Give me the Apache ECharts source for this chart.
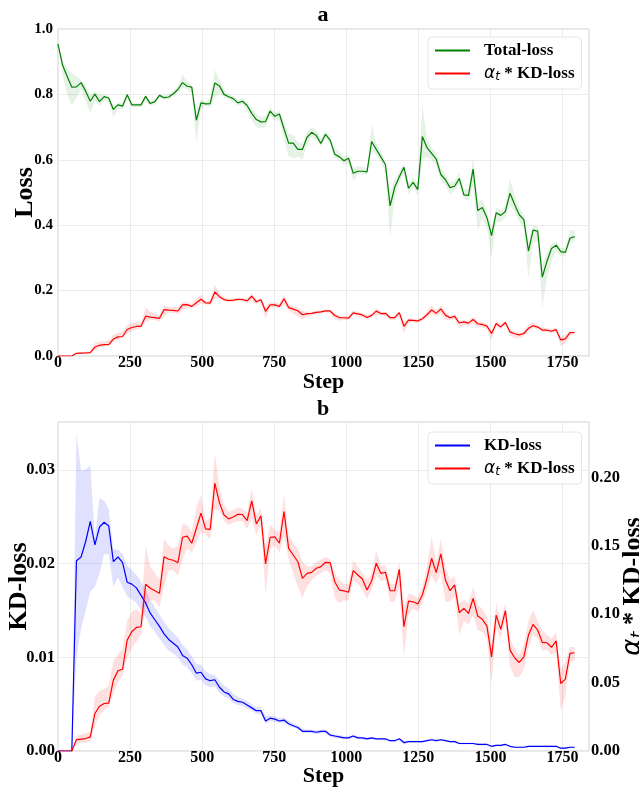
<!DOCTYPE html>
<html>
  <head>
    <title>Loss curves</title>
    <meta charset="utf-8">
    <script type="text/javascript" src="https://cdn.jsdelivr.net/npm/echarts@6/dist/echarts.min.js"></script>
  </head>
  <body style="margin:0;background:#ffffff;">
    <div id="main" style="width:639px;height:789px;"></div>

  <script type="text/javascript">
  // evaluation steps (one point every 16 steps)
  var steps = [0,16,32,48,64,80,96,112,128,144,
    160,176,192,208,224,240,256,272,288,304,
    320,336,352,368,384,400,416,432,448,464,
    480,496,512,528,544,560,576,592,608,624,
    640,656,672,688,704,720,736,752,768,784,
    800,816,832,848,864,880,896,912,928,944,
    960,976,992,1008,1024,1040,1056,1072,1088,1104,
    1120,1136,1152,1168,1184,1200,1216,1232,1248,1264,
    1280,1296,1312,1328,1344,1360,1376,1392,1408,1424,
    1440,1456,1472,1488,1504,1520,1536,1552,1568,1584,
    1600,1616,1632,1648,1664,1680,1696,1712,1728,1744,
    1760,1776,1792];

  // Total-loss (mean, band low, band high)
  var totalLoss = [0.954,0.889,0.855,0.822,0.823,0.836,0.810,0.779,0.801,0.778,
    0.793,0.789,0.754,0.768,0.764,0.799,0.768,0.768,0.768,0.794,
    0.772,0.778,0.797,0.790,0.792,0.802,0.815,0.836,0.825,0.822,
    0.721,0.774,0.771,0.772,0.835,0.826,0.800,0.793,0.787,0.774,
    0.779,0.766,0.742,0.723,0.716,0.717,0.749,0.733,0.740,0.695,
    0.651,0.651,0.632,0.632,0.669,0.684,0.674,0.650,0.678,0.660,
    0.617,0.609,0.597,0.605,0.559,0.565,0.565,0.563,0.656,0.632,
    0.609,0.585,0.459,0.516,0.548,0.577,0.513,0.531,0.509,0.671,
    0.637,0.620,0.602,0.555,0.539,0.515,0.519,0.543,0.493,0.491,
    0.572,0.445,0.454,0.423,0.368,0.438,0.430,0.442,0.498,0.463,
    0.432,0.417,0.321,0.385,0.382,0.241,0.289,0.329,0.339,0.319,
    0.317,0.360,0.365];
  var totalLo = [0.954,0.86,0.80,0.765,0.79,0.815,0.78,0.745,0.78,0.765,
    0.78,0.775,0.73,0.755,0.755,0.785,0.76,0.762,0.76,0.78,
    0.765,0.77,0.79,0.783,0.785,0.795,0.805,0.82,0.815,0.80,
    0.653,0.755,0.765,0.76,0.79,0.805,0.79,0.785,0.775,0.765,
    0.77,0.75,0.72,0.70,0.695,0.70,0.735,0.72,0.72,0.66,
    0.61,0.604,0.61,0.60,0.645,0.67,0.66,0.64,0.665,0.65,
    0.605,0.60,0.585,0.59,0.535,0.555,0.555,0.555,0.63,0.615,
    0.595,0.555,0.36,0.48,0.53,0.555,0.495,0.515,0.49,0.60,
    0.61,0.60,0.585,0.535,0.52,0.495,0.505,0.525,0.48,0.475,
    0.52,0.385,0.42,0.39,0.30,0.41,0.41,0.425,0.46,0.44,
    0.41,0.39,0.238,0.35,0.35,0.146,0.24,0.29,0.32,0.305,
    0.305,0.345,0.35];
  var totalHi = [0.954,0.905,0.88,0.865,0.855,0.845,0.825,0.80,0.81,0.80,
    0.80,0.795,0.765,0.775,0.775,0.805,0.775,0.773,0.775,0.80,
    0.78,0.785,0.803,0.797,0.80,0.81,0.825,0.862,0.84,0.83,
    0.75,0.785,0.778,0.785,0.876,0.845,0.815,0.80,0.795,0.782,
    0.788,0.775,0.755,0.74,0.73,0.735,0.76,0.745,0.75,0.715,
    0.68,0.675,0.655,0.65,0.685,0.70,0.69,0.665,0.69,0.67,
    0.635,0.625,0.61,0.615,0.575,0.58,0.578,0.575,0.708,0.65,
    0.625,0.595,0.50,0.54,0.565,0.59,0.53,0.545,0.53,0.766,
    0.665,0.64,0.62,0.575,0.555,0.53,0.535,0.56,0.51,0.51,
    0.609,0.47,0.48,0.445,0.39,0.455,0.445,0.46,0.541,0.49,
    0.455,0.43,0.35,0.40,0.395,0.28,0.315,0.345,0.35,0.33,
    0.33,0.382,0.385];

  // alpha_t * KD-loss
  var alphaKd = [0,0,0,0,0.0083,0.0087,0.0091,0.0103,0.0274,0.0327,
    0.0347,0.035,0.0518,0.0586,0.0597,0.081,0.0871,0.0903,0.0908,0.1218,
    0.1189,0.1171,0.1152,0.142,0.1401,0.1394,0.1376,0.1562,0.157,0.1518,
    0.1628,0.1738,0.1623,0.162,0.1957,0.1815,0.1725,0.1696,0.171,0.173,
    0.1728,0.1684,0.1828,0.1659,0.1718,0.1367,0.1562,0.1565,0.1518,0.175,
    0.1481,0.1432,0.1383,0.1262,0.1298,0.1305,0.1335,0.1347,0.1379,0.1377,
    0.1237,0.1176,0.117,0.116,0.1318,0.1286,0.1257,0.1176,0.1242,0.1372,
    0.1298,0.1306,0.1171,0.1171,0.1328,0.0908,0.1096,0.109,0.1074,0.114,
    0.1262,0.1408,0.1303,0.144,0.125,0.1171,0.1213,0.101,0.1042,0.1005,
    0.1115,0.0986,0.0962,0.0913,0.0688,0.0993,0.0889,0.1025,0.0737,0.0681,
    0.0647,0.0688,0.0847,0.0925,0.0884,0.0793,0.0791,0.0757,0.0805,0.0493,
    0.0525,0.0713,0.0718];
  var alphaLo = [0,0,0,0,0.005,0.006,0.006,0.007,0.018,0.026,
    0.03,0.032,0.042,0.05,0.055,0.068,0.075,0.08,0.085,0.105,
    0.11,0.11,0.105,0.12,0.132,0.132,0.128,0.14,0.148,0.145,
    0.152,0.16,0.158,0.155,0.177,0.175,0.168,0.165,0.167,0.168,
    0.168,0.162,0.17,0.158,0.165,0.114,0.148,0.15,0.145,0.158,
    0.14,0.13,0.12,0.112,0.12,0.125,0.128,0.13,0.132,0.13,
    0.112,0.108,0.11,0.11,0.125,0.122,0.118,0.111,0.118,0.128,
    0.124,0.125,0.109,0.109,0.12,0.0688,0.10,0.104,0.102,0.108,
    0.118,0.128,0.122,0.13,0.109,0.109,0.113,0.0847,0.095,0.092,
    0.10,0.088,0.087,0.082,0.0493,0.09,0.082,0.095,0.062,0.054,
    0.054,0.06,0.075,0.085,0.082,0.073,0.074,0.07,0.072,0.0293,
    0.04,0.065,0.066];
  var alphaHi = [0,0,0,0.001,0.011,0.012,0.013,0.014,0.040,0.044,
    0.045,0.048,0.066,0.070,0.075,0.095,0.102,0.104,0.100,0.150,
    0.135,0.13,0.125,0.155,0.15,0.148,0.15,0.166,0.165,0.16,
    0.178,0.187,0.168,0.17,0.218,0.192,0.18,0.175,0.176,0.178,
    0.177,0.174,0.1916,0.172,0.178,0.15,0.165,0.162,0.16,0.188,
    0.158,0.152,0.148,0.138,0.135,0.135,0.138,0.14,0.142,0.14,
    0.13,0.125,0.122,0.122,0.139,0.135,0.13,0.125,0.13,0.1464,
    0.135,0.136,0.122,0.122,0.138,0.105,0.115,0.114,0.112,0.12,
    0.135,0.1566,0.138,0.1547,0.135,0.125,0.128,0.108,0.11,0.108,
    0.12,0.107,0.104,0.098,0.078,0.108,0.096,0.108,0.082,0.075,
    0.07,0.078,0.095,0.103,0.095,0.088,0.085,0.082,0.087,0.06,
    0.065,0.076,0.076];

  // KD-loss
  var kdLoss = [0,0,0,0,0.0203,0.0207,0.02235,0.0245,0.022,0.0239,
    0.0244,0.0240,0.0202,0.0207,0.0201,0.0180,0.0178,0.0174,0.0166,0.0158,
    0.0147,0.0140,0.0133,0.0125,0.0119,0.0115,0.0111,0.0102,0.0099,0.0092,
    0.0083,0.0084,0.0077,0.0075,0.0076,0.0068,0.0063,0.0061,0.0055,0.0053,
    0.0052,0.0049,0.0046,0.0043,0.0043,0.0032,0.0035,0.0034,0.0032,0.0033,
    0.0029,0.0027,0.0025,0.0021,0.0021,0.0021,0.0020,0.0021,0.0021,0.0017,
    0.0016,0.0015,0.0014,0.0014,0.0016,0.0014,0.0014,0.0013,0.0014,0.0013,
    0.0013,0.0013,0.0011,0.0011,0.0013,0.0009,0.0010,0.0010,0.0010,0.0010,
    0.0011,0.0012,0.0011,0.0012,0.0011,0.0010,0.0010,0.0008,0.0008,0.0008,
    0.0008,0.0007,0.0007,0.0007,0.0005,0.0006,0.0006,0.0007,0.0005,0.0004,
    0.0004,0.0004,0.0005,0.0005,0.0005,0.0005,0.0005,0.0005,0.0005,0.0003,
    0.0003,0.0004,0.0004];
  var kdLo = [0,0,0,0,0.010,0.013,0.015,0.017,0.0175,0.019,
    0.021,0.021,0.0175,0.0185,0.0175,0.0165,0.0162,0.0158,0.0150,0.0143,
    0.0133,0.0127,0.0120,0.0113,0.0107,0.0104,0.0100,0.0092,0.0089,0.0083,
    0.0075,0.0076,0.0070,0.0068,0.0069,0.0062,0.0058,0.0056,0.0051,0.0049,
    0.0048,0.0045,0.0043,0.0040,0.0039,0.0029,0.0032,0.0031,0.0030,0.0030,
    0.0027,0.0025,0.0023,0.0019,0.0019,0.0019,0.0018,0.0019,0.0019,0.0015,
    0.0014,0.0013,0.0013,0.0013,0.0014,0.0013,0.0012,0.0012,0.0012,0.0012,
    0.0012,0.0011,0.0010,0.0010,0.0011,0.0007,0.0009,0.0009,0.0009,0.0009,
    0.0010,0.0011,0.0010,0.0011,0.0010,0.0009,0.0009,0.0007,0.0007,0.0007,
    0.0007,0.0006,0.0006,0.0006,0.0004,0.0005,0.0005,0.0006,0.0004,0.0003,
    0.0003,0.0003,0.0004,0.0004,0.0004,0.0004,0.0004,0.0004,0.0004,0.0002,
    0.0002,0.0003,0.0003];
  var kdHi = [0,0,0,0,0.0339,0.0299,0.030,0.0305,0.0228,0.0270,
    0.0267,0.0258,0.0215,0.0215,0.021,0.0198,0.0193,0.0188,0.0180,0.0172,
    0.0161,0.0153,0.0146,0.0138,0.0131,0.0126,0.0121,0.0113,0.0108,0.0101,
    0.0093,0.0092,0.0085,0.0082,0.0081,0.0075,0.0070,0.0067,0.0061,0.0058,
    0.0056,0.0053,0.0050,0.0047,0.0046,0.0037,0.0038,0.0037,0.0035,0.0036,
    0.0032,0.0030,0.0028,0.0024,0.0023,0.0023,0.0022,0.0023,0.0023,0.0019,
    0.0018,0.0017,0.0016,0.0016,0.0017,0.0016,0.0015,0.0015,0.0015,0.0014,
    0.0014,0.0014,0.0012,0.0012,0.0014,0.0011,0.0011,0.0011,0.0011,0.0011,
    0.0012,0.0013,0.0012,0.0013,0.0012,0.0011,0.0011,0.0009,0.0009,0.0009,
    0.0009,0.0008,0.0008,0.0008,0.0006,0.0007,0.0007,0.0008,0.0006,0.0005,
    0.0005,0.0005,0.0006,0.0006,0.0006,0.0006,0.0006,0.0006,0.0006,0.0004,
    0.0004,0.0005,0.0005];

  var xTicks = [0, 250, 500, 750, 1000, 1250, 1500, 1750];

  var serif = 'Liberation Serif';
  var alphaName = 'α_t * KD-loss';

  function pairs(ys) {
    return steps.map(function (s, i) { return [s, ys[i]]; });
  }

  // shaded band: one polygon through the (step, low) / (step, high) points
  function band(id, lo, hi, fill, xi, yi, z) {
    return {
      name: id, type: 'custom', xAxisIndex: xi, yAxisIndex: yi, silent: true, z: z,
      data: steps.map(function (s, i) { return [s, lo[i], hi[i]]; }),
      encode: { x: 0, y: [1, 2] },
      renderItem: function (params, api) {
        if (params.dataIndex !== 0) return null;
        var top = [], bottom = [];
        for (var i = 0; i < steps.length; i++) {
          top.push(api.coord([steps[i], hi[i]]));
          bottom.unshift(api.coord([steps[i], lo[i]]));
        }
        return { type: 'polygon', shape: { points: top.concat(bottom) },
          style: { fill: fill, stroke: null } };
      }
    };
  }
  function line(name, ys, color, xi, yi, z) {
    return {
      name: name, type: 'line', xAxisIndex: xi, yAxisIndex: yi,
      data: pairs(ys), symbol: 'none', z: z,
      lineStyle: { color: color, width: 1.2 }, itemStyle: { color: color }
    };
  }

  var richText = {
    g: { width: 9 },
    a: { fontFamily: 'DejaVu Sans', fontStyle: 'italic', fontSize: 17, color: '#000' },
    s: { fontFamily: 'DejaVu Sans', fontStyle: 'italic', fontSize: 12, color: '#000', verticalAlign: 'bottom', padding: [7, 0, 0, 0] },
    b: { fontFamily: serif, fontWeight: 'bold', fontSize: 17, color: '#000' }
  };
  function legendLabel(name) {
    if (name === alphaName) return '{g|}{a|α}{s|t}{b| * KD-loss}';
    return '{g|}{b|' + name + '}';
  }
  function legend(names, top) {
    return {
      data: names, orient: 'vertical', left: 428, top: top,
      padding: [5, 7, 6, 6], itemWidth: 35, itemHeight: 14, itemGap: 6,
      itemStyle: { opacity: 0 },
      backgroundColor: 'rgba(255,255,255,0.8)', borderColor: '#e6e6e6', borderWidth: 1, borderRadius: 4,
      formatter: legendLabel, textStyle: { rich: richText }
    };
  }

  var nameFont = { fontFamily: serif, fontWeight: 'bold', fontSize: 26, color: '#000' };

  function xAxis(gi, gap) {
    return {
      type: 'value', gridIndex: gi, min: 0, max: 1842, interval: 250,
      name: 'Step', nameLocation: 'middle', nameGap: gap, nameMoveOverlap: false,
      nameTextStyle: { fontFamily: serif, fontWeight: 'bold', fontSize: 22, color: '#000' },
      axisLine: { show: false }, axisTick: { show: false },
      axisLabel: {
        fontFamily: serif, fontWeight: 'bold', fontSize: 16, color: '#000', margin: -1,
        showMaxLabel: false,
        formatter: function (v) { return xTicks.indexOf(v) >= 0 ? String(v) : ''; }
      },
      splitLine: { lineStyle: { color: '#ebebeb', width: 1 } }
    };
  }

  var dom = document.getElementById('main');
  var myChart = echarts.init(dom, null, { renderer: 'canvas' });

  var option = {
    backgroundColor: '#ffffff',
    animation: false,
    title: [
      { text: 'a', left: 323, top: 4, textAlign: 'center', padding: 0,
        textStyle: { fontFamily: serif, fontWeight: 'bold', fontSize: 22, color: '#000' } },
      { text: 'b', left: 323, top: 398, textAlign: 'center', padding: 0,
        textStyle: { fontFamily: serif, fontWeight: 'bold', fontSize: 22, color: '#000' } }
    ],
    grid: [
      { left: 58, top: 29, width: 531, height: 327, containLabel: false, outerBoundsMode: 'none',
        show: true, borderColor: '#cccccc', borderWidth: 1 },
      { left: 58, top: 422, width: 531, height: 329, containLabel: false, outerBoundsMode: 'none',
        show: true, borderColor: '#cccccc', borderWidth: 1 }
    ],
    legend: [legend(['Total-loss', alphaName], 37), legend(['KD-loss', alphaName], 432)],
    xAxis: [xAxis(0, 15), xAxis(1, 14)],
    yAxis: [
      { type: 'value', gridIndex: 0, min: 0, max: 1.0, interval: 0.2,
        name: 'Loss', nameLocation: 'middle', nameGap: 20, nameMoveOverlap: false,
        nameTextStyle: nameFont,
        axisLine: { show: false }, axisTick: { show: false },
        axisLabel: { fontFamily: serif, fontWeight: 'bold', fontSize: 15, color: '#000', margin: 5,
          formatter: function (v) { return v.toFixed(1); } },
        splitLine: { lineStyle: { color: '#ebebeb', width: 1 } } },
      { type: 'value', gridIndex: 1, min: 0, max: 0.0351, interval: 0.01,
        name: 'KD-loss', nameLocation: 'middle', nameGap: 26, nameMoveOverlap: false,
        nameTextStyle: nameFont,
        axisLine: { show: false }, axisTick: { show: false },
        axisLabel: { fontFamily: serif, fontWeight: 'bold', fontSize: 16.5, color: '#000', margin: 3,
          showMaxLabel: false, formatter: function (v) { return v.toFixed(2); } },
        splitLine: { lineStyle: { color: '#ebebeb', width: 1 } } },
      { type: 'value', gridIndex: 1, position: 'right', min: 0, max: 0.2404, interval: 0.05,
        name: '{a|α}{s|t}{b| * KD-loss}', nameLocation: 'middle', nameGap: 30, nameRotate: 90,
        nameMoveOverlap: false,
        nameTextStyle: { rich: {
          a: { fontFamily: 'DejaVu Sans', fontStyle: 'italic', fontSize: 26, color: '#000' },
          s: { fontFamily: 'DejaVu Sans', fontStyle: 'italic', fontSize: 18, color: '#000', verticalAlign: 'bottom', padding: [10, 0, 0, 0] },
          b: nameFont
        } },
        axisLine: { show: false }, axisTick: { show: false },
        axisLabel: { fontFamily: serif, fontWeight: 'bold', fontSize: 16.5, color: '#000', margin: 2,
          showMaxLabel: false, formatter: function (v) { return v.toFixed(2); } },
        splitLine: { show: false } }
    ],
    series: [
      band('total-band', totalLo, totalHi, 'rgba(0,128,0,0.10)', 0, 0, 1),
      band('alpha-band-a', alphaLo, alphaHi, 'rgba(255,0,0,0.12)', 0, 0, 1),
      line('Total-loss', totalLoss, '#008000', 0, 0, 3),
      line(alphaName, alphaKd, '#ff0000', 0, 0, 3),
      band('kd-band', kdLo, kdHi, 'rgba(0,0,255,0.12)', 1, 1, 1),
      line('KD-loss', kdLoss, '#0000ff', 1, 1, 2),
      band('alpha-band-b', alphaLo, alphaHi, 'rgba(255,0,0,0.12)', 1, 2, 2),
      line(alphaName, alphaKd, '#ff0000', 1, 2, 3)
    ]
  };

  if (option && typeof option === 'object') {
    myChart.setOption(option, true);
  }
  </script>
  </body>
</html>
